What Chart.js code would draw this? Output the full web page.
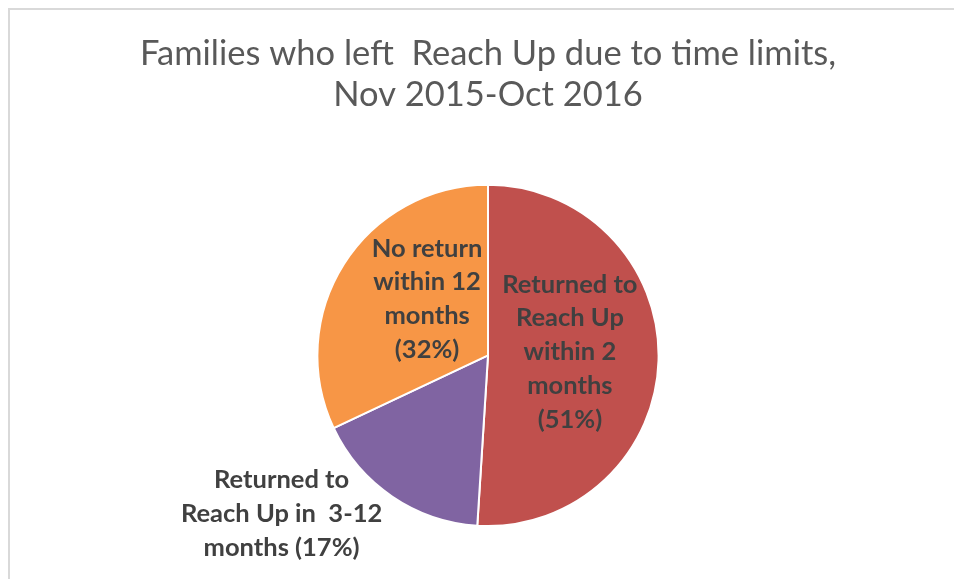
<!DOCTYPE html>
<html>
<head>
<meta charset="utf-8">
<script src="https://cdn.jsdelivr.net/npm/chart.js@4/dist/chart.umd.min.js"></script>
<style>
  html, body { margin: 0; padding: 0; background: #ffffff; }
  #wrap { position: relative; width: 954px; height: 579px; }
</style>
</head>
<body>
<div id="wrap"><canvas id="c" width="954" height="579"></canvas></div>
<script>
// ---- data ----
const categories = [
  "Returned to Reach Up within 2 months",
  "Returned to Reach Up in  3-12 months",
  "No return within 12 months"
];
const values = [51, 17, 32];
const labelLines = [
  ["Returned to", "Reach Up", "within 2", "months", "(51%)"],
  ["Returned to", "Reach Up in  3-12", "months (17%)"],
  ["No return", "within 12", "months", "(32%)"]
];
const colors = ["#C0504D", "#8064A2", "#F79646"];
const titleLines = ["Families who left  Reach Up due to time limits,", "Nov 2015-Oct 2016"];

// label anchor offsets, in units of the pie radius, relative to pie centre
const labelAnchors = [
  { fx: 0.48, fy: -0.02 },
  { fx: -1.21, fy: 0.93 },
  { fx: -0.357, fy: -0.33 }
];

const frame = {
  id: 'frame',
  beforeDraw(chart) {
    const ctx = chart.ctx;
    ctx.save();
    ctx.strokeStyle = '#D9D9D9';
    ctx.lineWidth = 2;
    ctx.beginPath();
    ctx.moveTo(9, 579);
    ctx.lineTo(9, 9);
    ctx.lineTo(954, 9);
    ctx.stroke();
    ctx.restore();
  }
};

const sliceLabels = {
  id: 'sliceLabels',
  afterDatasetsDraw(chart) {
    const ctx = chart.ctx;
    const meta = chart.getDatasetMeta(0);
    ctx.save();
    ctx.font = 'bold 25.5px Lato';
    ctx.fillStyle = '#404040';
    ctx.textAlign = 'center';
    ctx.textBaseline = 'middle';
    const lh = 33.8;
    meta.data.forEach((arc, i) => {
      const r = arc.outerRadius;
      const cx = arc.x + labelAnchors[i].fx * r;
      const cy = arc.y + labelAnchors[i].fy * r;
      const lines = labelLines[i];
      const y0 = cy - (lines.length - 1) * lh / 2;
      lines.forEach((t, k) => ctx.fillText(t, cx, y0 + k * lh));
    });
    ctx.restore();
  }
};

new Chart(document.getElementById('c'), {
  type: 'pie',
  data: {
    labels: categories,
    datasets: [{
      data: values,
      backgroundColor: colors,
      borderColor: '#FFFFFF',
      borderWidth: 2
    }]
  },
  options: {
    responsive: false,
    animation: false,
    layout: { padding: { left: 22, right: 0, top: 0, bottom: 52 } },
    plugins: {
      legend: { display: false },
      tooltip: { enabled: false },
      title: {
        display: true,
        text: titleLines,
        color: '#595959',
        font: { family: 'Lato', size: 34.5, weight: '400', lineHeight: 1.2 },
        padding: { top: 33, bottom: 68 }
      }
    }
  },
  plugins: [frame, sliceLabels]
});
</script>
</body>
</html>
